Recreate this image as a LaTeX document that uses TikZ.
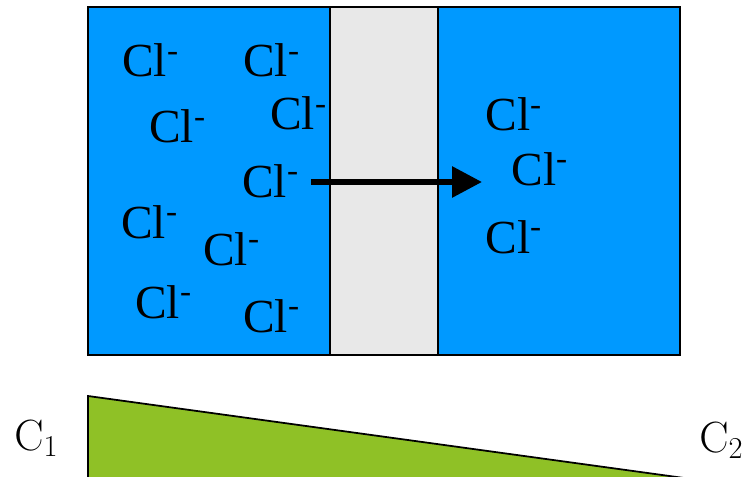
\documentclass[tikz,border=0pt]{standalone}
\usepackage[no-math]{fontspec}
\setmainfont{Liberation Serif}
\usepackage{xcolor}
\usepackage{tikz}
\usetikzlibrary{arrows.meta}
\definecolor{cellblue}{RGB}{0,153,255}
\definecolor{membgray}{RGB}{232,232,232}
\definecolor{gradgreen}{RGB}{143,193,38}

\begin{document}
\begin{tikzpicture}[
  x=0.02cm, y=-0.02cm,
  wall/.style={draw=black, line width=1pt},
  ion/.style={anchor=base west, inner sep=0pt,
              font=\fontsize{27}{30}\selectfont},
  conc/.style={anchor=base west, inner sep=0pt,
               font=\fontsize{25}{30}\selectfont},
  flux/.style={-{Triangle[length=17pt,width=17pt]}, line width=3.4pt}
]
\useasboundingbox (0,0) rectangle (749,476);

% Compartments and membrane
\draw[wall, fill=cellblue] (88,7) rectangle (330,355);
\draw[wall, fill=membgray] (330,7) rectangle (438,355);
\draw[wall, fill=cellblue] (438,7) rectangle (680,355);

% Ions, left side
\node[ion] (l1) at (122,77) {Cl\textsuperscript{-}};
\node[ion] (l2) at (243,77) {Cl\textsuperscript{-}};
\node[ion] (l3) at (149,143) {Cl\textsuperscript{-}};
\node[ion] (l4) at (270,130) {Cl\textsuperscript{-}};
\node[ion] (l5) at (242,197) {Cl\textsuperscript{-}};
\node[ion] (l6) at (121,238) {Cl\textsuperscript{-}};
\node[ion] (l7) at (203,265) {Cl\textsuperscript{-}};
\node[ion] (l8) at (135,318) {Cl\textsuperscript{-}};
\node[ion] (l9) at (243,332) {Cl\textsuperscript{-}};

% Ions, right side
\node[ion] (r1) at (485,131) {Cl\textsuperscript{-}};
\node[ion] (r2) at (511,185) {Cl\textsuperscript{-}};
\node[ion] (r3) at (485,253) {Cl\textsuperscript{-}};

% Flux through membrane
\coordinate (fstart) at (311,182);
\coordinate (fend) at (482,182);
\draw[flux] (fstart) -- (fend);

% Concentration gradient
\draw[wall, fill=gradgreen] (88,396) -- (684,478) -- (88,478) -- cycle;
\node[conc] (c1) at (14,450) {$\mathrm{C}_1$};
\node[conc] (c2) at (699,452) {$\mathrm{C}_2$};
\end{tikzpicture}
\end{document}
